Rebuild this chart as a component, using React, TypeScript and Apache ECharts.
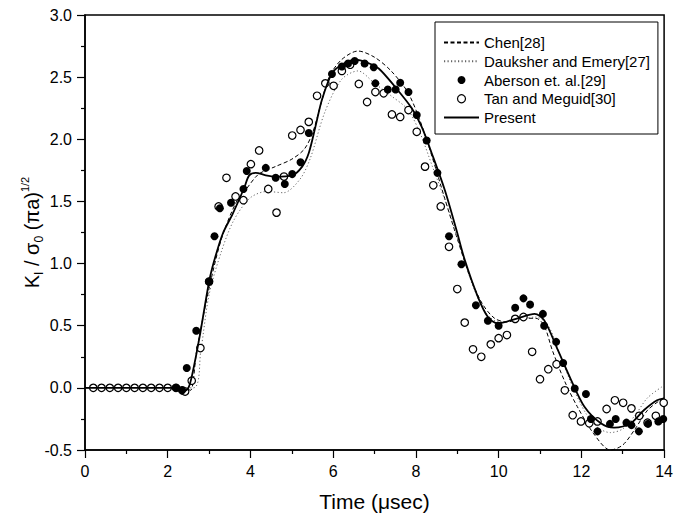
import React, { useEffect, useRef } from "react";
import * as echarts from "echarts";

const FONT = "'Liberation Sans', Arial, Helvetica, sans-serif";

// Present (solid)
const presentT = [0, 2.2, 2.38, 2.5, 2.6, 2.77, 3.0, 3.13, 3.33, 3.57, 3.85, 3.97, 4.13, 4.37, 4.61, 5.01, 5.25, 5.41, 5.57, 5.73, 5.97, 6.21, 6.54, 6.8, 7.1, 7.5, 7.9, 8.14, 8.38, 8.7, 8.98, 9.18, 9.5, 9.74, 9.98, 10.46, 10.87, 11.1, 11.43, 11.75, 12.07, 12.47, 12.79, 13.19, 13.51, 13.83, 14];
const presentV = [0, 0, -0.03, 0.0, 0.12, 0.41, 0.855, 1.03, 1.24, 1.4, 1.61, 1.71, 1.73, 1.71, 1.7, 1.71, 1.78, 1.89, 2.1, 2.32, 2.53, 2.6, 2.64, 2.62, 2.57, 2.42, 2.25, 2.1, 1.89, 1.59, 1.27, 1.03, 0.73, 0.57, 0.52, 0.56, 0.595, 0.545, 0.305, 0.064, -0.15, -0.285, -0.32, -0.285, -0.18, -0.1, -0.085];

// Chen[28] (dashed)
const chenT = [0, 2.4, 2.55, 2.7, 3.0, 3.3, 3.65, 3.9, 4.2, 4.6, 5.0, 5.3, 5.5, 5.7, 5.9, 6.2, 6.6, 7.0, 7.4, 7.8, 8.1, 8.4, 8.7, 9.0, 9.3, 9.6, 9.9, 10.2, 10.6, 10.9, 11.1, 11.3, 11.6, 11.9, 12.3, 12.7, 13.0, 13.3, 13.6, 13.9, 14];
const chenV = [0, 0, -0.02, 0.3, 0.8, 1.2, 1.49, 1.6, 1.72, 1.78, 1.84, 1.92, 2.05, 2.28, 2.5, 2.64, 2.71, 2.66, 2.55, 2.38, 2.15, 1.85, 1.52, 1.2, 0.9, 0.68, 0.56, 0.53, 0.56, 0.56, 0.5, 0.3, 0.05, -0.15, -0.37, -0.5, -0.46, -0.33, -0.18, -0.1, -0.08];

// Dauksher and Emery[27] (dotted)
const daukT = [0, 2.62, 2.8, 3.0, 3.3, 3.6, 4.0, 4.4, 4.8, 5.2, 5.45, 5.8, 6.2, 6.6, 7.0, 7.4, 7.8, 8.1, 8.4, 8.8, 9.1, 9.4, 9.7, 10.0, 10.5, 10.9, 11.2, 11.5, 11.8, 12.1, 12.4, 12.7, 13.0, 13.3, 13.6, 14];
const daukV = [0, 0, 0.3, 0.75, 1.1, 1.35, 1.53, 1.58, 1.57, 1.68, 1.85, 2.22, 2.48, 2.55, 2.45, 2.35, 2.24, 2.05, 1.78, 1.42, 1.1, 0.8, 0.6, 0.53, 0.55, 0.57, 0.5, 0.25, 0.0, -0.2, -0.32, -0.36, -0.33, -0.22, -0.08, 0.02];

// Aberson et. al.[29] (filled circles)
const abersonT = [2.2, 2.35, 2.46, 2.69, 3.0, 3.13, 3.26, 3.53, 3.83, 3.91, 4.37, 4.61, 4.83, 5.01, 5.21, 5.41, 5.97, 6.21, 6.36, 6.52, 6.76, 6.98, 7.02, 7.32, 7.51, 7.62, 7.82, 8.02, 8.26, 8.52, 8.8, 9.1, 9.45, 9.74, 10.0, 10.4, 10.6, 10.76, 11.07, 11.1, 11.39, 11.56, 11.84, 12.11, 12.23, 12.39, 12.69, 12.83, 13.09, 13.21, 13.39, 13.61, 13.86, 13.98];
const abersonV = [0, -0.02, 0.16, 0.46, 0.855, 1.22, 1.445, 1.49, 1.6, 1.745, 1.77, 1.69, 1.64, 1.72, 1.815, 2.05, 2.525, 2.585, 2.61, 2.63, 2.61, 2.58, 2.45, 2.4, 2.4, 2.455, 2.38, 2.195, 1.99, 1.73, 1.22, 0.995, 0.665, 0.54, 0.5, 0.645, 0.72, 0.67, 0.595, 0.5, 0.37, 0.2, -0.005, -0.05, -0.25, -0.35, -0.29, -0.25, -0.28, -0.3, -0.35, -0.29, -0.27, -0.25];

// Tan and Meguid[30] (open circles)
const tanT = [0.2, 0.4, 0.6, 0.8, 1.0, 1.2, 1.4, 1.6, 1.8, 2.0, 2.2, 2.35, 2.42, 2.58, 2.79, 3.0, 3.23, 3.42, 3.64, 3.83, 4.01, 4.21, 4.43, 4.63, 4.81, 5.01, 5.21, 5.41, 5.61, 5.81, 6.01, 6.21, 6.41, 6.62, 6.82, 7.02, 7.22, 7.42, 7.62, 7.82, 8.02, 8.22, 8.42, 8.6, 8.8, 9.0, 9.18, 9.38, 9.58, 9.81, 10.0, 10.2, 10.4, 10.6, 10.81, 11.0, 11.2, 11.4, 11.6, 11.79, 11.99, 12.19, 12.39, 12.61, 12.81, 13.01, 13.21, 13.4, 13.6, 13.8, 13.99];
const tanV = [0, 0, 0, 0, 0, 0, 0, 0, 0, 0, 0, -0.02, -0.03, 0.058, 0.32, 0.855, 1.46, 1.69, 1.54, 1.51, 1.8, 1.91, 1.6, 1.41, 1.7, 2.03, 2.075, 2.14, 2.35, 2.45, 2.43, 2.55, 2.6, 2.445, 2.3, 2.38, 2.37, 2.2, 2.18, 2.235, 2.06, 1.78, 1.63, 1.46, 1.135, 0.795, 0.525, 0.31, 0.25, 0.35, 0.4, 0.425, 0.555, 0.57, 0.29, 0.07, 0.15, 0.19, -0.02, -0.22, -0.27, -0.285, -0.27, -0.17, -0.1, -0.12, -0.165, -0.225, -0.28, -0.225, -0.12];

const xTicks = { min: 0, max: 14, interval: 2 };
const yTicks = { min: -0.5, max: 3.0, interval: 0.5 };

const zip = (ts: number[], vs: number[]) => ts.map((t, i) => [t, vs[i]]);

const hiddenSymbol = { color: "rgba(0,0,0,0)", borderWidth: 0, opacity: 0 };

export default function App() {
  const ref = useRef<HTMLDivElement>(null);
  useEffect(() => {
    if (!ref.current) return;
    const chart = echarts.init(ref.current, null, { renderer: "svg" });
    const axisCommon = {
      type: "value" as const,
      nameLocation: "middle" as const,
      nameMoveOverlap: false,
      axisLine: { show: true, onZero: false, lineStyle: { color: "#000", width: 1.5 } },
      axisTick: { show: true, inside: false, length: 8, lineStyle: { color: "#000", width: 1.2 } },
      minorTick: { show: true, splitNumber: 2, length: 4, lineStyle: { color: "#000", width: 1.2 } },
      splitLine: { show: false },
      minorSplitLine: { show: false },
    };
    chart.setOption({
      animation: false,
      backgroundColor: "#fff",
      textStyle: { fontFamily: FONT },
      grid: { left: 85, right: 9, top: 15, bottom: 69, show: true, borderColor: "#000", borderWidth: 1.5 },
      legend: {
        orient: "vertical",
        left: 435,
        top: 22,
        padding: [13, 8, 9, 8],
        itemGap: 3.75,
        itemWidth: 35,
        itemHeight: 8,
        selectedMode: false,
        backgroundColor: "#fff",
        borderColor: "#000",
        borderWidth: 1,
        borderRadius: 0,
        textStyle: { fontSize: 15, color: "#000", fontFamily: FONT },
        data: [
          { name: "Chen[28]", itemStyle: hiddenSymbol },
          { name: "Dauksher and Emery[27]", itemStyle: hiddenSymbol },
          { name: "Aberson et. al.[29]", itemStyle: { color: "#000", opacity: 1 } },
          { name: "Tan and Meguid[30]", itemStyle: { color: "#fff", borderColor: "#000", borderWidth: 1.2, opacity: 1 } },
          { name: "Present", itemStyle: hiddenSymbol },
        ],
      },
      xAxis: {
        ...axisCommon,
        min: xTicks.min,
        max: xTicks.max,
        interval: xTicks.interval,
        name: "Time (μsec)",
        nameGap: 41,
        nameTextStyle: { fontSize: 21, color: "#000", fontFamily: FONT },
        axisLabel: { fontSize: 16, color: "#000", margin: 13, fontFamily: FONT },
      },
      yAxis: {
        ...axisCommon,
        min: yTicks.min,
        max: yTicks.max,
        interval: yTicks.interval,
        name: "{m|K}{s|I}{m| / σ}{s|0}{m| (πa)}{p|1/2}",
        nameGap: 40,
        nameTextStyle: {
          color: "#000",
          fontFamily: FONT,
          fontSize: 20,
          rich: {
            m: { fontSize: 20, lineHeight: 26, color: "#000", fontFamily: FONT },
            s: { fontSize: 12, lineHeight: 12, verticalAlign: "bottom", color: "#000", fontFamily: FONT },
            p: { fontSize: 11, lineHeight: 11, verticalAlign: "top", color: "#000", fontFamily: FONT },
          },
        },
        axisLabel: { fontSize: 16, color: "#000", margin: 13, fontFamily: FONT, formatter: (v: number) => v.toFixed(1) },
      },
      series: [
        {
          name: "Chen[28]",
          type: "line",
          data: zip(chenT, chenV),
          smooth: 0.3,
          symbol: "none",
          lineStyle: { color: "#000", width: 1, type: [4, 2.5] },
          itemStyle: { color: "#000" },
          z: 2,
        },
        {
          name: "Dauksher and Emery[27]",
          type: "line",
          data: zip(daukT, daukV),
          smooth: 0.3,
          symbol: "none",
          lineStyle: { color: "#666", width: 1, type: [1.2, 2.3] },
          itemStyle: { color: "#666" },
          z: 2,
        },
        {
          name: "Aberson et. al.[29]",
          type: "scatter",
          data: zip(abersonT, abersonV),
          symbol: "circle",
          symbolSize: 8,
          itemStyle: { color: "#000", opacity: 1 },
          z: 4,
        },
        {
          name: "Tan and Meguid[30]",
          type: "scatter",
          data: zip(tanT, tanV),
          symbol: "circle",
          symbolSize: 7.5,
          itemStyle: { color: "#fff", borderColor: "#000", borderWidth: 1.2, opacity: 1 },
          z: 3,
        },
        {
          name: "Present",
          type: "line",
          data: zip(presentT, presentV),
          smooth: 0.3,
          symbol: "none",
          lineStyle: { color: "#000", width: 1.8 },
          itemStyle: { color: "#000" },
          z: 5,
        },
      ],
    });
    return () => chart.dispose();
  }, []);
  return (
    <div
      ref={ref}
      style={{ position: "fixed", left: 0, top: 0, width: 676, height: 519, background: "#fff" }}
    />
  );
}
